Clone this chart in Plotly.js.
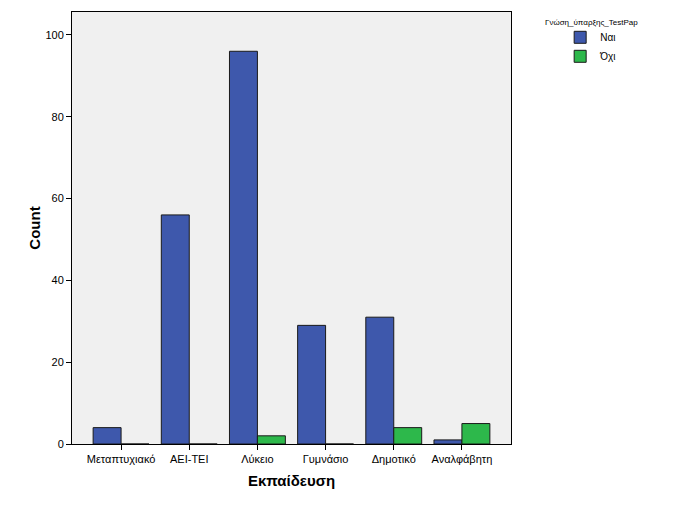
<!DOCTYPE html>
<html>
<head>
<meta charset="utf-8">
<script src="https://cdn.plot.ly/plotly-3.0.1.min.js"></script>
<style>html,body{margin:0;padding:0;background:#fff;}#chart{width:682px;height:510px;}</style>
</head>
<body>
<div id="chart"></div>
<script>
const categories = ["Μεταπτυχιακό", "ΑΕΙ-ΤΕΙ", "Λύκειο", "Γυμνάσιο", "Δημοτικό", "Αναλφάβητη"];
const naiValues = [4, 56, 96, 29, 31, 1];
const oxiValues = [0, 0, 2, 0, 4, 5];
const seriesNames = ["Ναι", "Όχι"];
const legendTitle = "Γνώση_ύπαρξης_TestPap";
const yTicks = [0, 20, 40, 60, 80, 100];

const font = "Liberation Sans, Arial, sans-serif";
const traces = [
  {type: "bar", x: categories, y: naiValues, name: seriesNames[0],
   marker: {color: "#3E58AC", line: {color: "#1a1a1a", width: 1}}},
  {type: "bar", x: categories, y: oxiValues, name: seriesNames[1],
   marker: {color: "#2DB84B", line: {color: "#1a1a1a", width: 1}}}
];
const layout = {
  width: 682, height: 510,
  margin: {l: 72, r: 171, t: 12, b: 66},
  paper_bgcolor: "#ffffff", plot_bgcolor: "#F0F0F0",
  barmode: "group", bargap: 0.18, bargroupgap: 0,
  font: {family: font, size: 11, color: "#000"},
  showlegend: true,
  legend: {x: 1.112, y: 0.975, xanchor: "left", yanchor: "top",
           font: {family: font, size: 10, color: "#000"},
           itemwidth: 30, tracegroupgap: 0, bgcolor: "rgba(0,0,0,0)"},
  xaxis: {type: "category", range: [-0.72, 5.72], showgrid: false,
          showline: true, linecolor: "#000", linewidth: 1, mirror: true,
          ticks: "outside", ticklen: 5, tickcolor: "#000",
          tickfont: {family: font, size: 11},
          title: {text: "<b>Εκπαίδευση</b>", font: {family: font, size: 15}, standoff: 11}},
  yaxis: {range: [0, 105.6], showgrid: false, zeroline: false,
          showline: true, linecolor: "#000", linewidth: 1, mirror: true,
          ticks: "outside", ticklen: 5, tickcolor: "#000",
          tickvals: yTicks, tickfont: {family: font, size: 11},
          title: {text: "<b>Count</b>", font: {family: font, size: 15}, standoff: 1}},
  annotations: [{text: legendTitle, xref: "paper", yref: "paper",
                 x: 1.073, y: 0.975, xanchor: "left", yanchor: "middle",
                 showarrow: false, font: {family: font, size: 8, color: "#000"}}]
};
Plotly.newPlot("chart", traces, layout, {displayModeBar: false, staticPlot: true});
</script>
</body>
</html>
